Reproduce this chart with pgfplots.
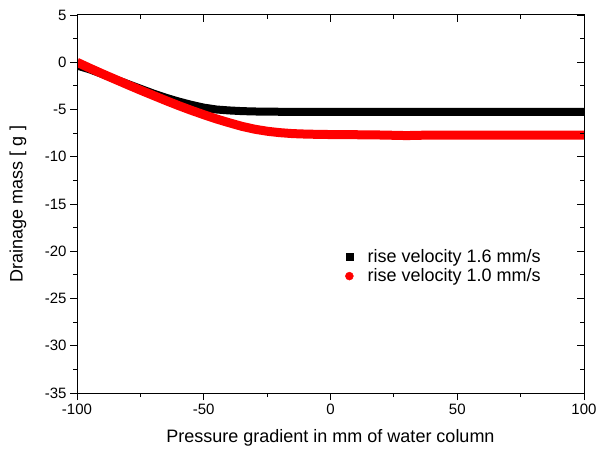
\documentclass[border=0pt]{standalone}
\usepackage{pgfplots}
\pgfplotsset{compat=1.18}
\usepackage{fontspec}
\setmainfont{Liberation Sans}

\pgfplotstableread{
x y
-100 -0.35
-95 -0.75
-90 -1.25
-85 -1.8
-80 -2.3
-75 -2.8
-70 -3.3
-65 -3.75
-60 -4.15
-55 -4.5
-50 -4.8
-45 -5.0
-40 -5.1
-35 -5.17
-30 -5.21
-20 -5.24
-10 -5.25
0 -5.25
20 -5.25
40 -5.25
60 -5.25
80 -5.25
100 -5.25
}\fastdata

\pgfplotstableread{
x y
-100 0.0
-95 -0.62
-90 -1.22
-85 -1.8
-80 -2.38
-75 -2.95
-70 -3.5
-65 -4.05
-60 -4.58
-55 -5.08
-50 -5.55
-45 -6.0
-40 -6.4
-35 -6.78
-30 -7.08
-25 -7.3
-20 -7.45
-15 -7.55
-10 -7.6
-5 -7.63
0 -7.65
10 -7.67
20 -7.7
30 -7.76
40 -7.7
50 -7.7
60 -7.7
70 -7.7
80 -7.7
90 -7.7
100 -7.7
}\slowdata

\begin{document}
\begin{tikzpicture}
\useasboundingbox (-77pt,-59pt) rectangle (524pt,393pt);
\pgfplotsset{
  common/.style={
    at={(0pt,0pt)}, anchor=south west,
    width=507pt, height=378pt, scale only axis,
    xmin=-100, xmax=100, ymin=-35, ymax=5,
    xtick={-100,-50,...,100}, ytick={-35,-30,...,5},
    minor x tick num=1, minor y tick num=1,
    major tick length=7pt, minor tick length=4pt,
    every tick/.style={black, line width=0.9pt},
    axis line style={line width=1pt},
    tick label style={font=\fontsize{15}{17}\selectfont},
  }
}
\begin{axis}[common,
  xtick pos=left, ytick pos=left, tick align=outside,
  /pgf/number format/assume math mode=true,
  xlabel={Pressure gradient in mm of water column},
  ylabel={Drainage mass [ g ]},
  label style={font=\fontsize{18}{20}\selectfont},
  xlabel style={at={(axis description cs:0.5,-0.119)}, anchor=center},
  ylabel style={at={(axis description cs:-0.1164,0.5)}, anchor=center, rotate=0},
  legend style={draw=none, fill=none, at={(axis description cs:0.5286,0.386)}, anchor=north west,
    inner sep=0pt, row sep=1pt, font=\fontsize{18}{21}\selectfont},
  legend cell align=left,
  legend image code/.code={\path (-4pt,0pt) (16pt,0pt);
    \draw[#1] plot coordinates {(0pt,0pt)};},
]
\addlegendimage{only marks, mark=square*, mark size=3.5pt, black}
\addlegendentry{rise velocity 1.6 mm/s}
\addlegendimage{only marks, mark=*, mark size=4pt, red}
\addlegendentry{rise velocity 1.0 mm/s}
\addplot[black, line width=8pt, line join=round, forget plot] table {\fastdata};
\addplot[red, line width=9pt, line join=round, forget plot] table {\slowdata};
\end{axis}
\begin{axis}[common,
  xtick pos=right, ytick pos=right, tick align=inside,
  xticklabels={}, yticklabels={},
]
\end{axis}
\end{tikzpicture}
\end{document}
